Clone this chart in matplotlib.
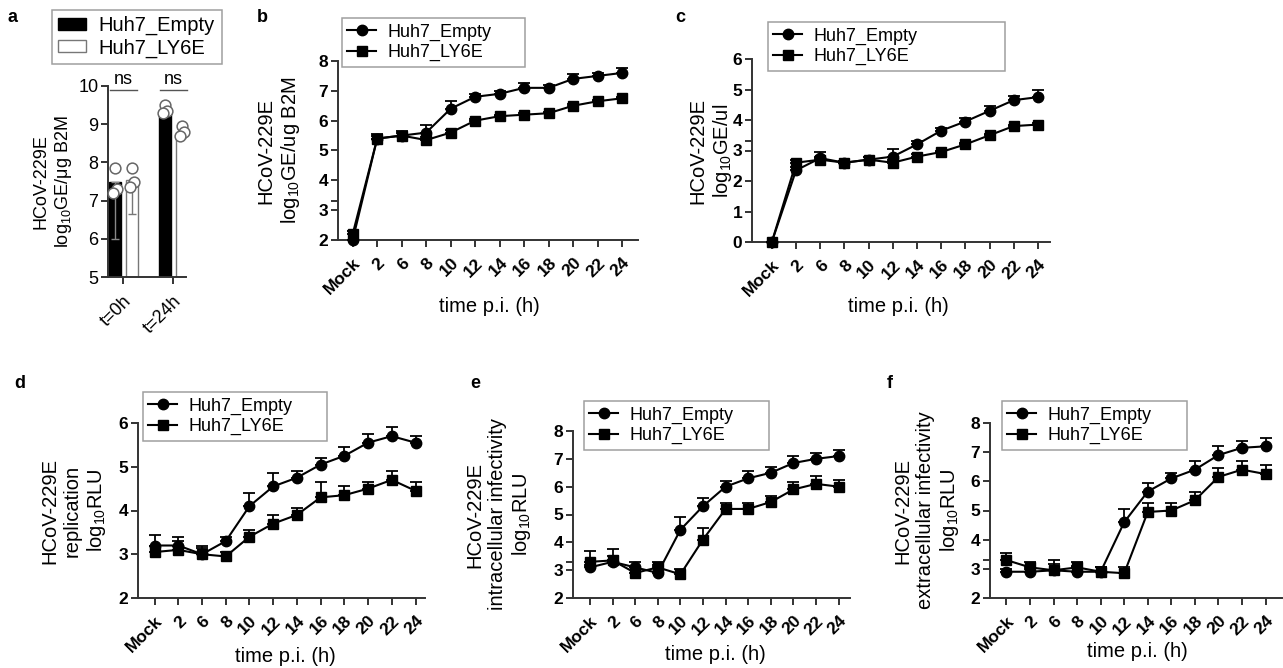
import matplotlib
matplotlib.use("Agg")
import matplotlib.pyplot as plt
import numpy as np
from matplotlib.patches import Patch
from matplotlib.lines import Line2D

plt.rcParams['font.family'] = ['Liberation Sans', 'DejaVu Sans']
plt.rcParams['mathtext.fontset'] = 'custom'
plt.rcParams['mathtext.rm'] = 'Liberation Sans'
plt.rcParams['mathtext.it'] = 'Liberation Sans'

W, H = 1283, 668

# ---------------- data ----------------
time_labels = ["Mock", "2", "6", "8", "10", "12", "14", "16", "18", "20", "22", "24"]
series_names = ["Huh7_Empty", "Huh7_LY6E"]

# panel a
a_groups = ["t=0h", "t=24h"]
a_empty_mean = [7.5, 9.35]
a_ly6e_mean = [7.55, 8.75]
a_empty_err = [1.5, 0.1]
a_ly6e_err = [0.9, 0.1]
a_empty_pts = [[7.85, 7.3, 7.2], [9.5, 9.35, 9.3]]
a_ly6e_pts = [[7.85, 7.5, 7.35], [8.95, 8.8, 8.7]]

# panel b
b_empty = [2.0, 5.4, 5.5, 5.6, 6.4, 6.8, 6.9, 7.1, 7.1, 7.4, 7.5, 7.6]
b_empty_err = [0.3, 0.15, 0.15, 0.25, 0.25, 0.1, 0.1, 0.15, 0.1, 0.15, 0.1, 0.15]
b_ly6e = [2.2, 5.4, 5.5, 5.35, 5.6, 6.0, 6.15, 6.2, 6.25, 6.5, 6.65, 6.75]
b_ly6e_err = [0.1, 0.1, 0.1, 0.1, 0.1, 0.05, 0.05, 0.05, 0.05, 0.05, 0.05, 0.05]

# panel c
c_empty = [0.0, 2.35, 2.75, 2.6, 2.7, 2.8, 3.2, 3.65, 3.95, 4.3, 4.65, 4.75]
c_empty_err = [0.0, 0.1, 0.2, 0.05, 0.1, 0.25, 0.1, 0.1, 0.1, 0.15, 0.15, 0.25]
c_ly6e = [0.0, 2.6, 2.7, 2.6, 2.7, 2.6, 2.8, 2.95, 3.2, 3.5, 3.8, 3.85]
c_ly6e_err = [0.0, 0.1, 0.1, 0.05, 0.1, 0.1, 0.1, 0.05, 0.05, 0.05, 0.05, 0.05]

# panel d
d_empty = [3.2, 3.2, 3.0, 3.3, 4.1, 4.55, 4.75, 5.05, 5.25, 5.55, 5.7, 5.55]
d_empty_err = [0.25, 0.2, 0.15, 0.1, 0.3, 0.3, 0.15, 0.15, 0.2, 0.2, 0.2, 0.15]
d_ly6e = [3.05, 3.1, 3.0, 2.95, 3.4, 3.7, 3.9, 4.3, 4.35, 4.5, 4.7, 4.45]
d_ly6e_err = [0.15, 0.2, 0.2, 0.1, 0.15, 0.2, 0.15, 0.35, 0.2, 0.15, 0.2, 0.2]

# panel e
e_empty = [3.1, 3.3, 3.1, 2.9, 4.45, 5.3, 6.0, 6.3, 6.5, 6.85, 7.0, 7.1]
e_empty_err = [0.1, 0.2, 0.2, 0.3, 0.45, 0.3, 0.2, 0.25, 0.2, 0.25, 0.2, 0.2]
e_ly6e = [3.3, 3.35, 2.9, 3.1, 2.85, 4.1, 5.2, 5.2, 5.45, 5.9, 6.1, 6.0]
e_ly6e_err = [0.4, 0.4, 0.2, 0.2, 0.2, 0.4, 0.2, 0.2, 0.2, 0.25, 0.3, 0.25]

# panel f
f_empty = [2.9, 2.9, 2.95, 2.9, 2.9, 4.6, 5.65, 6.1, 6.4, 6.9, 7.15, 7.2]
f_empty_err = [0.1, 0.1, 0.35, 0.2, 0.15, 0.45, 0.3, 0.2, 0.3, 0.3, 0.25, 0.3]
f_ly6e = [3.3, 3.05, 2.95, 3.05, 2.9, 2.85, 4.95, 5.0, 5.35, 6.15, 6.4, 6.25]
f_ly6e_err = [0.25, 0.2, 0.2, 0.2, 0.15, 0.2, 0.3, 0.25, 0.3, 0.3, 0.3, 0.3]

# ---------------- figure ----------------
fig = plt.figure(figsize=(W / 100, H / 100), dpi=100)

def ax_px(box):
    l, t, r, b = box
    return fig.add_axes([l / W, 1 - b / H, (r - l) / W, (b - t) / H])

def fig_px(x, y):
    return x / W, 1 - y / H

def to_ax(box, px, py):
    l, t, r, b = box
    return (px - l) / (r - l), (b - py) / (b - t)

SPINE = '#333333'
TICK_FS = 12.5
LAB_FS = 14.5
LEG_FS = 13
LSP = 1.2

def style(ax, bold=True, fs=TICK_FS):
    for s in ['top', 'right']:
        ax.spines[s].set_visible(False)
    for s in ['left', 'bottom']:
        ax.spines[s].set_linewidth(1.4)
        ax.spines[s].set_color(SPINE)
    ax.tick_params(axis='both', width=1.4, length=5, color=SPINE, labelsize=fs)
    ax.tick_params(axis='x', pad=6)
    ax.tick_params(axis='y', pad=2)
    ax.tick_params(axis='y', which='minor', width=1.4, length=5, color=SPINE)
    if bold:
        for lab in ax.get_yticklabels() + ax.get_xticklabels():
            lab.set_fontweight('bold')


def line_panel(box, emp, emp_err, ly, ly_err, ylim, yticks, xlim, ylabel, ylab_right,
               xlab_pos, leg_box, extra_minor=None):
    ax = ax_px(box)
    x = np.arange(len(time_labels))
    zeros = np.zeros(len(x))
    ax.errorbar(x, emp, yerr=[zeros, emp_err], color='black', marker='o', ms=7.5, lw=1.5,
                capsize=4.5, elinewidth=1.3, capthick=1.3, clip_on=False, zorder=3)
    ax.errorbar(x, ly, yerr=[zeros, ly_err], color='black', marker='s', ms=7.5, lw=1.5,
                capsize=4.5, elinewidth=1.3, capthick=1.3, clip_on=False, zorder=4)
    ax.set_xlim(*xlim)
    ax.set_ylim(*ylim)
    ax.set_yticks(yticks)
    if extra_minor is not None:
        ax.set_yticks(extra_minor, minor=True)
    ax.set_xticks(x)
    ax.set_xticklabels(time_labels, rotation=45, ha='right', va='top', rotation_mode='anchor')
    ax.set_ylabel(ylabel, fontsize=LAB_FS, linespacing=LSP)
    ax.yaxis.set_label_coords(*to_ax(box, ylab_right, (box[1] + box[3]) / 2))
    ax.set_xlabel("time p.i. (h)", fontsize=LAB_FS)
    ax.xaxis.set_label_coords(*to_ax(box, xlab_pos[0], xlab_pos[1]))
    style(ax)
    handles = [Line2D([0], [0], color='black', marker='o', ms=7.5, lw=1.5),
               Line2D([0], [0], color='black', marker='s', ms=7.5, lw=1.5)]
    l, t, r, b = leg_box
    x0, y1 = fig_px(l, t)
    x1, y0 = fig_px(r, b)
    leg = fig.legend(handles, series_names, loc='upper left', bbox_to_anchor=(x0, y0, x1 - x0, y1 - y0),
                     bbox_transform=fig.transFigure, mode='expand', fontsize=LEG_FS, frameon=True,
                     fancybox=False, edgecolor='#888888', handlelength=1.6, handletextpad=0.6,
                     borderpad=0.3, labelspacing=0.2, borderaxespad=0)
    leg.get_frame().set_linewidth(1.1)
    return ax

# ---------------- panel a ----------------
box_a = (108, 86, 186, 277)
axa = ax_px(box_a)
gx = np.arange(len(a_groups))
off = 0.17
bw = 0.24
axa.bar(gx - off, a_empty_mean, width=bw, bottom=0, color='black', edgecolor='black', zorder=2)
axa.bar(gx + off, a_ly6e_mean, width=bw, bottom=0, color='white', edgecolor='#777777', lw=1.0, zorder=2)
axa.errorbar(gx - off, a_empty_mean, yerr=[a_empty_err, np.zeros(2)], fmt='none', ecolor='#888888',
             elinewidth=1.0, capsize=3, zorder=3)
axa.errorbar(gx + off, a_ly6e_mean, yerr=[a_ly6e_err, np.zeros(2)], fmt='none', ecolor='#777777',
             elinewidth=1.0, capsize=3, zorder=3)
for i in range(len(a_groups)):
    jit = np.array([0.0, 0.04, -0.04])
    axa.scatter(gx[i] - off + jit, a_empty_pts[i], s=60, facecolor='white', edgecolor='#666666',
                lw=1.1, zorder=4, clip_on=False)
    axa.scatter(gx[i] + off + jit, a_ly6e_pts[i], s=60, facecolor='white', edgecolor='#666666',
                lw=1.1, zorder=4, clip_on=False)
axa.set_ylim(5, 10)
axa.set_xlim(-0.3, 1.26)
axa.set_yticks([5, 6, 7, 8, 9, 10])
axa.set_xticks(gx)
axa.set_xticklabels(a_groups, rotation=45, ha='right', va='top', rotation_mode='anchor')
axa.set_ylabel("HCoV-229E\nlog$_{10}$GE/μg B2M", fontsize=13, linespacing=LSP)
axa.yaxis.set_label_coords(*to_ax(box_a, 74, (box_a[1] + box_a[3]) / 2))
style(axa, bold=False, fs=13)
for i in range(len(a_groups)):
    axa.plot([gx[i] - 0.27, gx[i] + 0.27], [9.9, 9.9], color='#555555', lw=1.0, clip_on=False)
    axa.text(gx[i], 9.95, "ns", ha='center', va='bottom', fontsize=13, clip_on=False)
ha = [Patch(facecolor='black', edgecolor='black'), Patch(facecolor='white', edgecolor='#777777')]
x0, y1 = fig_px(52, 10)
x1, y0 = fig_px(222, 65)
lega = fig.legend(ha, series_names, loc='upper left', bbox_to_anchor=(x0, y0, x1 - x0, y1 - y0),
                  bbox_transform=fig.transFigure, mode='expand', fontsize=14.5, frameon=True,
                  fancybox=False, edgecolor='#888888', handlelength=1.4, handleheight=0.55,
                  handletextpad=0.6, borderpad=0.3, labelspacing=0.15, borderaxespad=0)
lega.get_frame().set_linewidth(1.1)

# ---------------- panels b-f ----------------
line_panel((338, 61, 638, 240), b_empty, b_empty_err, b_ly6e, b_ly6e_err, (2, 8), range(2, 9),
           (-0.6, 11.65), "HCoV-229E\nlog$_{10}$GE/ug B2M", 302, (489, 297),
           (342, 18, 525, 72), extra_minor=[3.3])

line_panel((752, 59, 1050, 242), c_empty, c_empty_err, c_ly6e, c_ly6e_err, (0, 6), range(0, 7),
           (-0.82, 11.5), "HCoV-229E\nlog$_{10}$GE/ul", 734, (898, 297),
           (768, 22, 1005, 76), extra_minor=[3.3])

line_panel((138, 423, 425, 598), d_empty, d_empty_err, d_ly6e, d_ly6e_err, (2, 6), range(2, 7),
           (-0.7, 11.4), "HCoV-229E\nreplication\nlog$_{10}$RLU", 108, (285, 647),
           (143, 392, 327, 447))

line_panel((573, 431, 850, 598), e_empty, e_empty_err, e_ly6e, e_ly6e_err, (2, 8), range(2, 9),
           (-0.75, 11.5), "HCoV-229E\nintracellular infectivity\nlog$_{10}$RLU", 533, (715, 645),
           (584, 401, 769, 455), extra_minor=[3.3])

line_panel((990, 423, 1282, 598), f_empty, f_empty_err, f_ly6e, f_ly6e_err, (2, 8), range(2, 9),
           (-0.7, 11.7), "HCoV-229E\nextracellular infectivity\nlog$_{10}$RLU", 961, (1137, 642),
           (1002, 401, 1187, 455), extra_minor=[3.3])

# panel letters
for letter, (px, py) in zip("abcdef", [(13, 17), (262, 17), (680, 17), (20, 383), (475, 383), (890, 383)]):
    fx, fy = fig_px(px, py)
    fig.text(fx, fy, letter, fontsize=13, fontweight='bold', ha='center', va='center')

fig.savefig("out.png", dpi=100, facecolor='white')
